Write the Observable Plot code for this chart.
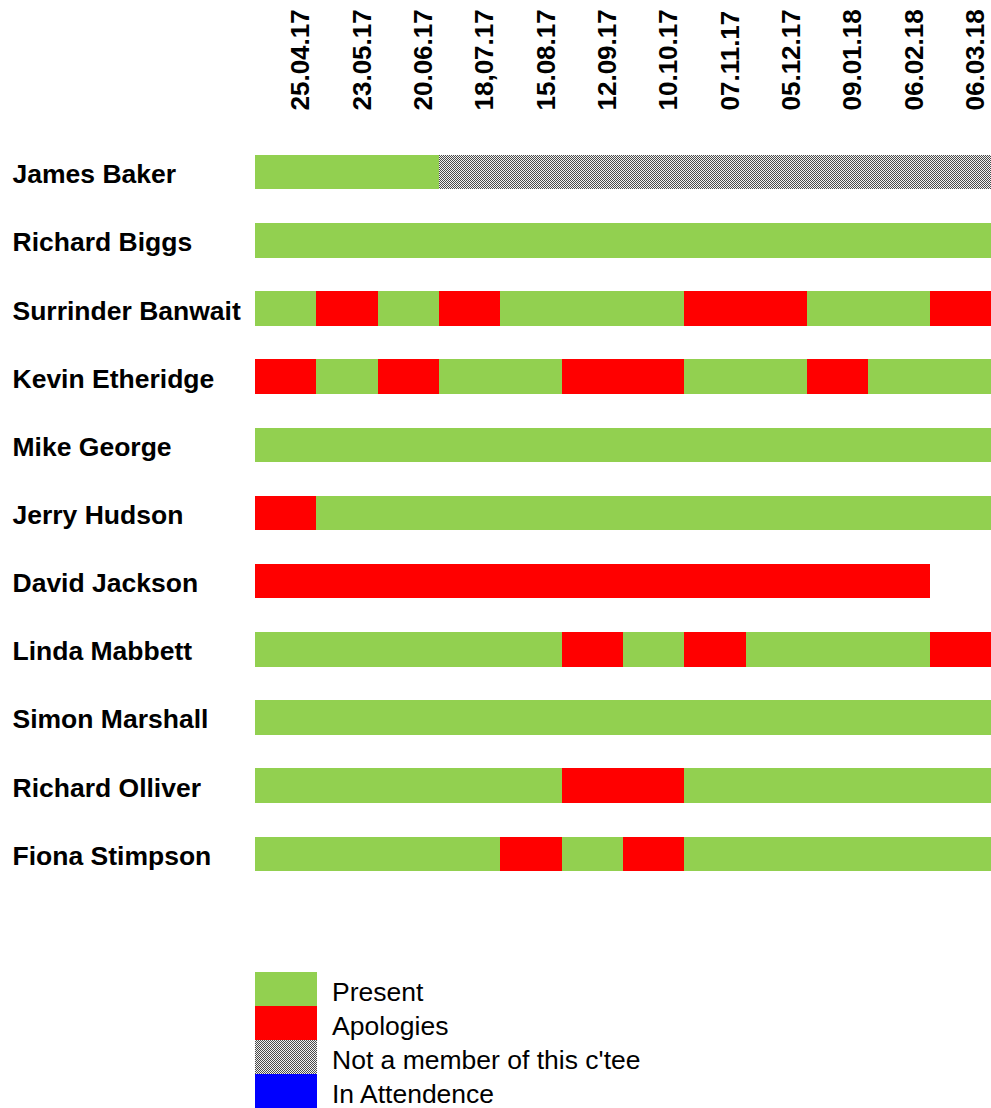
<!DOCTYPE html>
<html>
<head>
<meta charset="utf-8">
<script src="https://cdn.jsdelivr.net/npm/d3@7"></script>
<script src="https://cdn.jsdelivr.net/npm/@observablehq/plot@0.6"></script>
<style>
  html, body { margin: 0; padding: 0; background: #fff; overflow: hidden; }
  body { font-family: "Liberation Sans", Arial, sans-serif; width: 991px; }
  #chart svg { display: block; max-width: none; }
  #legend { margin-top: 12px; margin-left: 255px; }
  .row { display: flex; align-items: center; height: 34px; }
  .sw { width: 62px; height: 34px; flex: none; }
  .lab { margin-left: 15px; font-size: 26.5px; color: #000; line-height: 34px; position: relative; top: 3px; white-space: nowrap; }
</style>
</head>
<body>
<div id="chart"></div>
<div id="legend"></div>
<script>
// ---- data ----
const meetings = ["25.04.17","23.05.17","20.06.17","18,07.17","15.08.17","12.09.17","10.10.17","07.11.17","05.12.17","09.01.18","06.02.18","06.03.18"];
const members = ["James Baker","Richard Biggs","Surrinder Banwait","Kevin Etheridge","Mike George","Jerry Hudson","David Jackson","Linda Mabbett","Simon Marshall","Richard Olliver","Fiona Stimpson"];
// P = Present, A = Apologies, N = Not a member, I = In Attendence, "" = no record
const jamesBaker       = ["P","P","P","N","N","N","N","N","N","N","N","N"];
const richardBiggs     = ["P","P","P","P","P","P","P","P","P","P","P","P"];
const surrinderBanwait = ["P","A","P","A","P","P","P","A","A","P","P","A"];
const kevinEtheridge   = ["A","P","A","P","P","A","A","P","P","A","P","P"];
const mikeGeorge       = ["P","P","P","P","P","P","P","P","P","P","P","P"];
const jerryHudson      = ["A","P","P","P","P","P","P","P","P","P","P","P"];
const davidJackson     = ["A","A","A","A","A","A","A","A","A","A","A",""];
const lindaMabbett     = ["P","P","P","P","P","A","P","A","P","P","P","A"];
const simonMarshall    = ["P","P","P","P","P","P","P","P","P","P","P","P"];
const richardOlliver   = ["P","P","P","P","P","A","A","P","P","P","P","P"];
const fionaStimpson    = ["P","P","P","P","A","P","A","P","P","P","P","P"];
const attendance = [jamesBaker, richardBiggs, surrinderBanwait, kevinEtheridge, mikeGeorge, jerryHudson, davidJackson, lindaMabbett, simonMarshall, richardOlliver, fionaStimpson];
const statusCodes = ["P","A","N","I"];
const statusLabels = ["Present","Apologies","Not a member of this c'tee","In Attendence"];
const statusFills = ["#92d050","#ff0000","url(#checker)","#0000ff"];

// ---- build table ----
const cells = [];
members.forEach((m, i) => attendance[i].forEach((s, j) => {
  if (s) cells.push({member: m, meeting: meetings[j], status: s});
}));

const FONT = "Liberation Sans, Arial, sans-serif";

function defsMark() {
  const ns = "http://www.w3.org/2000/svg";
  const defs = document.createElementNS(ns, "defs");
  const pat = document.createElementNS(ns, "pattern");
  pat.setAttribute("id", "checker");
  pat.setAttribute("width", "2");
  pat.setAttribute("height", "2");
  pat.setAttribute("patternUnits", "userSpaceOnUse");
  const mk = (x, y, c) => {
    const r = document.createElementNS(ns, "rect");
    r.setAttribute("x", x); r.setAttribute("y", y);
    r.setAttribute("width", 1); r.setAttribute("height", 1);
    r.setAttribute("fill", c);
    return r;
  };
  pat.appendChild(mk(0, 0, "#4a4a4a"));
  pat.appendChild(mk(1, 1, "#4a4a4a"));
  pat.appendChild(mk(1, 0, "#f2f2f2"));
  pat.appendChild(mk(0, 1, "#f2f2f2"));
  defs.appendChild(pat);
  const g = document.createElementNS(ns, "g");
  g.appendChild(defs);
  return g;
}

const cellMarks = statusCodes.map((code, k) =>
  Plot.cell(cells.filter(d => d.status === code), {
    x: "meeting", y: "member", fill: statusFills[k], inset: 0, shapeRendering: "crispEdges"
  })
);

const chart = Plot.plot({
  width: 991,
  height: 960,
  marginLeft: 255,
  marginRight: 0,
  marginTop: 138,
  marginBottom: 72,
  style: {fontFamily: FONT, background: "#fff"},
  x: {type: "band", domain: meetings, padding: 0, round: false, axis: null},
  y: {type: "band", domain: members, paddingInner: 0.495, paddingOuter: 0.25, round: false, axis: null},
  marks: [
    defsMark,
    ...cellMarks,
    Plot.text(meetings, {
      x: d => d, frameAnchor: "top", dy: -28, dx: 15,
      rotate: -90, textAnchor: "start", lineAnchor: "middle",
      fontSize: 26, fontWeight: "bold", fill: "#000"
    }),
    Plot.text(members, {
      y: d => d, frameAnchor: "left", dx: -243, dy: 2,
      textAnchor: "start", lineAnchor: "middle",
      fontSize: 26.5, fontWeight: "bold", fill: "#000"
    })
  ]
});
document.getElementById("chart").appendChild(chart);

// ---- legend ----
const legend = document.getElementById("legend");
statusCodes.forEach((code, k) => {
  const row = document.createElement("div");
  row.className = "row";
  const sw = document.createElement("div");
  sw.className = "sw";
  if (code === "N") {
    sw.style.backgroundColor = "#f2f2f2";
    sw.style.backgroundImage = "linear-gradient(45deg, #4a4a4a 25%, transparent 25%, transparent 75%, #4a4a4a 75%), linear-gradient(45deg, #4a4a4a 25%, transparent 25%, transparent 75%, #4a4a4a 75%)";
    sw.style.backgroundSize = "2px 2px";
    sw.style.backgroundPosition = "0 0, 1px 1px";
  } else {
    sw.style.background = statusFills[k];
  }
  const lab = document.createElement("div");
  lab.className = "lab";
  lab.textContent = statusLabels[k];
  row.appendChild(sw);
  row.appendChild(lab);
  legend.appendChild(row);
});
</script>
</body>
</html>
